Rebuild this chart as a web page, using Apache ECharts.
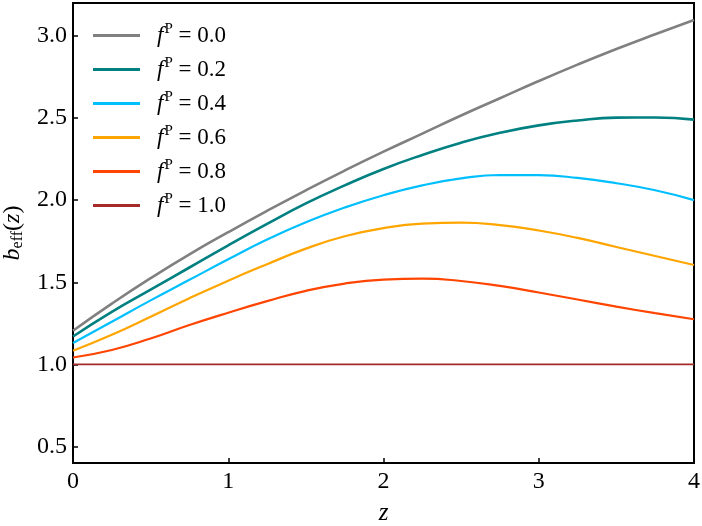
<!DOCTYPE html>
<html>
<head>
<meta charset="utf-8">
<script src="https://cdn.jsdelivr.net/npm/echarts@6/dist/echarts.min.js"></script>
<style>
  html, body { margin: 0; padding: 0; background: #fff; }
  #chart { width: 702px; height: 526px; }
</style>
</head>
<body>
<div id="chart"></div>
<script>
// redshift grid
const zVals = [0, 0.25, 0.5, 0.75, 1.0, 1.25, 1.5, 1.75, 2.0, 2.25, 2.5, 2.75, 3.0, 3.25, 3.5, 3.75, 4.0];

// b_eff(z), one array per f^P
const fP00 = [1.205, 1.37, 1.525, 1.67, 1.805, 1.935, 2.06, 2.18, 2.295, 2.405, 2.515, 2.62, 2.725, 2.825, 2.92, 3.01, 3.097];
const fP02 = [1.17, 1.32, 1.455, 1.59, 1.725, 1.855, 1.98, 2.09, 2.19, 2.275, 2.35, 2.41, 2.455, 2.485, 2.502, 2.503, 2.49];
const fP04 = [1.13, 1.26, 1.39, 1.515, 1.64, 1.76, 1.865, 1.955, 2.03, 2.09, 2.132, 2.153, 2.152, 2.135, 2.103, 2.06, 2.0];
const fP06 = [1.083, 1.18, 1.29, 1.403, 1.51, 1.61, 1.705, 1.78, 1.83, 1.857, 1.863, 1.848, 1.815, 1.77, 1.715, 1.66, 1.605];
const fP08 = [1.042, 1.088, 1.158, 1.24, 1.315, 1.385, 1.448, 1.492, 1.516, 1.522, 1.508, 1.478, 1.438, 1.395, 1.352, 1.312, 1.275];
const fP10 = [1.0, 1.0, 1.0, 1.0, 1.0, 1.0, 1.0, 1.0, 1.0, 1.0, 1.0, 1.0, 1.0, 1.0, 1.0, 1.0, 1.0];

const fLabels = ['0.0', '0.2', '0.4', '0.6', '0.8', '1.0'];
const seriesVals = [fP00, fP02, fP04, fP06, fP08, fP10];
const colors = ['#808080', '#008080', '#00bfff', '#ffa500', '#ff4500', '#a52a2a'];
const widths = [2.6, 2.6, 2.2, 2.2, 2.2, 1.8];

const serif = 'Liberation Serif';

const chart = echarts.init(document.getElementById('chart'), null, { renderer: 'canvas' });

const series = seriesVals.map((vals, k) => ({
  name: 'f' + fLabels[k],
  type: 'line',
  data: zVals.map((z, i) => [z, vals[i]]),
  smooth: 0.5,
  symbol: 'none',
  z: 10 - k,
  lineStyle: { color: colors[k], width: widths[k] },
  itemStyle: { color: colors[k] }
}));

const option = {
  animation: false,
  backgroundColor: '#fff',
  grid: {
    left: 73, right: 8, top: 3, bottom: 63,
    outerBoundsMode: 'none',
    show: true, borderColor: '#000', borderWidth: 2, backgroundColor: 'transparent'
  },
  legend: {
    orient: 'vertical',
    left: 88, top: 17,
    icon: 'rect',
    itemWidth: 47, itemHeight: 3,
    itemGap: 7,
    data: series.map(s => s.name),
    formatter: name => '{i|f}{s|P}{n| = ' + name.slice(1) + '}',
    textStyle: {
      fontFamily: serif,
      padding: [0, 0, 0, 12],
      rich: {
        i: { fontFamily: serif, fontStyle: 'italic', fontSize: 23, color: '#000', lineHeight: 26 },
        s: { fontFamily: serif, fontSize: 15, color: '#000', padding: [0, 0, 12, 1], lineHeight: 26 },
        n: { fontFamily: serif, fontSize: 23, color: '#000', lineHeight: 26 }
      }
    }
  },
  xAxis: {
    type: 'value',
    min: 0, max: 4, interval: 1,
    name: '{i|z}',
    nameLocation: 'middle',
    nameGap: 38,
    nameTextStyle: { rich: { i: { fontFamily: serif, fontStyle: 'italic', fontSize: 25, color: '#000' } } },
    axisLine: { show: true, lineStyle: { color: '#000', width: 2 } },
    axisTick: { show: true, inside: true, length: 5, lineStyle: { color: '#000', width: 1.5 } },
    axisLabel: { fontFamily: serif, fontSize: 24, color: '#000', margin: 7 },
    splitLine: { show: false }
  },
  yAxis: {
    type: 'value',
    min: 0.4, max: 3.2, splitNumber: 5,
    name: '{i|b}{s|eff}{n|(}{i|z}{n|)}',
    nameLocation: 'middle',
    nameRotate: 90,
    nameGap: 44,
    nameTextStyle: {
      rich: {
        i: { fontFamily: serif, fontStyle: 'italic', fontSize: 24, color: '#000' },
        s: { fontFamily: serif, fontSize: 16, color: '#000', padding: [10, 0, 0, 0] },
        n: { fontFamily: serif, fontSize: 24, color: '#000' }
      }
    },
    axisLine: { show: true, lineStyle: { color: '#000', width: 2 } },
    axisTick: { show: true, inside: true, length: 5, lineStyle: { color: '#000', width: 1.5 } },
    axisLabel: {
      fontFamily: serif, fontSize: 24, color: '#000', margin: 6,
      showMinLabel: false, showMaxLabel: false,
      formatter: v => (Math.abs(v * 2 - Math.round(v * 2)) < 1e-6 ? v.toFixed(1) : '')
    },
    splitLine: { show: false }
  },
  series: series
};

chart.setOption(option);
</script>
</body>
</html>
